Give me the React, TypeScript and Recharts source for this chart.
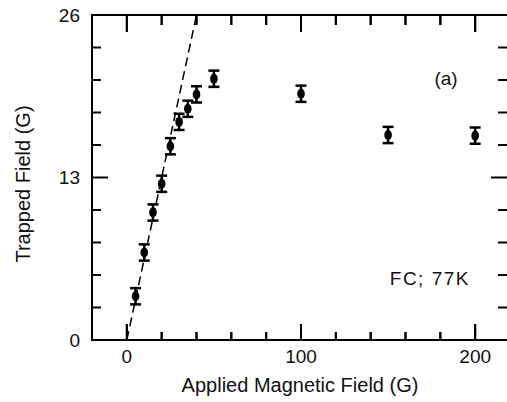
import { ComposedChart, Scatter, ErrorBar, XAxis, YAxis, ReferenceArea, ReferenceLine } from "recharts";

const APPLIED = [5, 10, 15, 20, 25, 30, 35, 40, 50, 100, 150, 200];
const TRAPPED = [3.5, 7.0, 10.2, 12.5, 15.5, 17.45, 18.5, 19.65, 20.9, 19.7, 16.4, 16.35];
const ERR = [0.65, 0.65, 0.65, 0.65, 0.65, 0.65, 0.65, 0.65, 0.65, 0.65, 0.65, 0.65];

// dashed initial-slope line
const FIT_X = [0, 40];
const FIT_Y = [0, 26];

const X_DOMAIN = [-20, 220];
const Y_DOMAIN = [0, 26];
const X_MINOR = [20, 40, 60, 80, 120, 140, 160, 180];
const X_MAJOR = [0, 100, 200];
const Y_MINOR = [2.6, 5.2, 7.8, 10.4, 15.6, 18.2, 20.8, 23.4];
const Y_MAJOR = [13];

const points = APPLIED.map((x, i) => ({ x, y: TRAPPED[i], err: ERR[i] }));
const fit = FIT_X.map((x, i) => ({ x, y: FIT_Y[i] }));

const FONT = "'Liberation Sans', Arial, sans-serif";
const tickFont = { fontSize: 19, fontFamily: FONT, fill: "#111" };

// inward x tick marks at both ends of a vertical reference line
const xTick = (bottomLen: number, topLen: number) => (p: any) => {
  const top = Math.min(p.y1, p.y2);
  const bot = Math.max(p.y1, p.y2);
  return (
    <g fill="#000">
      <rect x={p.x1 - 1} y={bot - bottomLen} width={2} height={bottomLen} />
      <rect x={p.x1 - 1} y={top} width={2} height={topLen} />
    </g>
  );
};
const xMinorTick = xTick(8, 10);
const xMajorTick = xTick(16, 17);

// inward y tick marks at both ends of a horizontal reference line
const yTick = (leftLen: number, rightLen: number) => (p: any) => {
  const left = Math.min(p.x1, p.x2);
  const right = Math.max(p.x1, p.x2);
  return (
    <g stroke="#000" strokeWidth={2}>
      <line x1={left} x2={left + leftLen} y1={p.y1} y2={p.y1} />
      <line x1={right} x2={right - rightLen} y1={p.y1} y2={p.y1} />
    </g>
  );
};
const yMinorTick = yTick(9, 12);
const yMajorTick = yTick(16, 19);

// bottom / top edge: x ticks spread along the edge line
const edgeTicks = (dir: number, minorLen: number, majorLen: number) => (p: any) => {
  const left = Math.min(p.x1, p.x2);
  const right = Math.max(p.x1, p.x2);
  const at = (v: number) => left + ((v - X_DOMAIN[0]) / (X_DOMAIN[1] - X_DOMAIN[0])) * (right - left);
  const bar = (v: number, len: number) => (
    <rect key={v + "-" + len} x={at(v) - 1} y={dir < 0 ? p.y1 - len : p.y1} width={2} height={len} fill="#000" />
  );
  return (
    <g>
      {X_MINOR.map((v) => bar(v, minorLen))}
      {X_MAJOR.map((v) => bar(v, majorLen))}
    </g>
  );
};
const bottomEdge = edgeTicks(-1, 8, 16);
const topEdge = edgeTicks(1, 10, 17);

const Dot = (p: any) => <ellipse cx={p.cx} cy={p.cy} rx={3.8} ry={5} fill="#000" />;
const Nothing = () => null;

export default function App() {
  return (
    <div style={{ position: "absolute", left: 0, top: 0, width: 507, height: 402, overflow: "hidden", background: "#fff" }}>
      <ComposedChart width={520} height={402} margin={{ top: 15, right: 10, bottom: 0, left: 0 }}>
        <XAxis xAxisId="b" dataKey="x" type="number" domain={X_DOMAIN} ticks={X_MAJOR} height={62}
          tickSize={0} tickMargin={10} tickLine={false} tick={tickFont} axisLine={false} interval={0} allowDataOverflow />
        <YAxis yAxisId="l" dataKey="y" type="number" domain={Y_DOMAIN} ticks={[0, 13, 26]} width={92}
          tickSize={0} tickMargin={12} tickLine={false} tick={tickFont} axisLine={false} interval={0} allowDataOverflow />

        <ReferenceArea xAxisId="b" yAxisId="l" x1={X_DOMAIN[0]} x2={X_DOMAIN[1]} y1={Y_DOMAIN[0]} y2={Y_DOMAIN[1]}
          fill="none" fillOpacity={0} stroke="#000" strokeWidth={2} />
        {Y_MINOR.map((v) => (
          <ReferenceLine key={"ym" + v} xAxisId="b" yAxisId="l" y={v} shape={yMinorTick} />
        ))}
        {Y_MAJOR.map((v) => (
          <ReferenceLine key={"yM" + v} xAxisId="b" yAxisId="l" y={v} shape={yMajorTick} />
        ))}
        {X_MINOR.map((v) => (
          <ReferenceLine key={"xm" + v} xAxisId="b" yAxisId="l" x={v} ifOverflow="visible" shape={xMinorTick} />
        ))}
        {X_MAJOR.map((v) => (
          <ReferenceLine key={"xM" + v} xAxisId="b" yAxisId="l" x={v} ifOverflow="visible" shape={xMajorTick} />
        ))}
        <ReferenceLine xAxisId="b" yAxisId="l" y={Y_DOMAIN[0]} ifOverflow="visible" shape={bottomEdge} />
        <ReferenceLine xAxisId="b" yAxisId="l" y={Y_DOMAIN[1]} ifOverflow="visible" shape={topEdge} />

        <Scatter xAxisId="b" yAxisId="l" data={fit} line={{ stroke: "#000", strokeWidth: 1.5, strokeDasharray: "9 5" }}
          shape={Nothing} isAnimationActive={false} />
        <Scatter xAxisId="b" yAxisId="l" data={points} shape={Dot} isAnimationActive={false}>
          <ErrorBar dataKey="err" direction="y" width={5.5} stroke="#000" strokeWidth={2.5} isAnimationActive={false} />
        </Scatter>

        <text x={446} y={78} textAnchor="middle" dominantBaseline="central" fontSize={19} fontFamily={FONT} fill="#111">(a)</text>
        <text x={470} y={278} textAnchor="end" dominantBaseline="central" fontSize={19} fontFamily={FONT} fill="#111" letterSpacing={1.5}>FC; 77K</text>
        <text x={300} y={392} textAnchor="middle" fontSize={20} fontFamily={FONT} fill="#111">Applied Magnetic Field (G)</text>
        <text transform="translate(30,184) rotate(-90)" textAnchor="middle" fontSize={20} fontFamily={FONT} fill="#111">Trapped Field (G)</text>
      </ComposedChart>
    </div>
  );
}
